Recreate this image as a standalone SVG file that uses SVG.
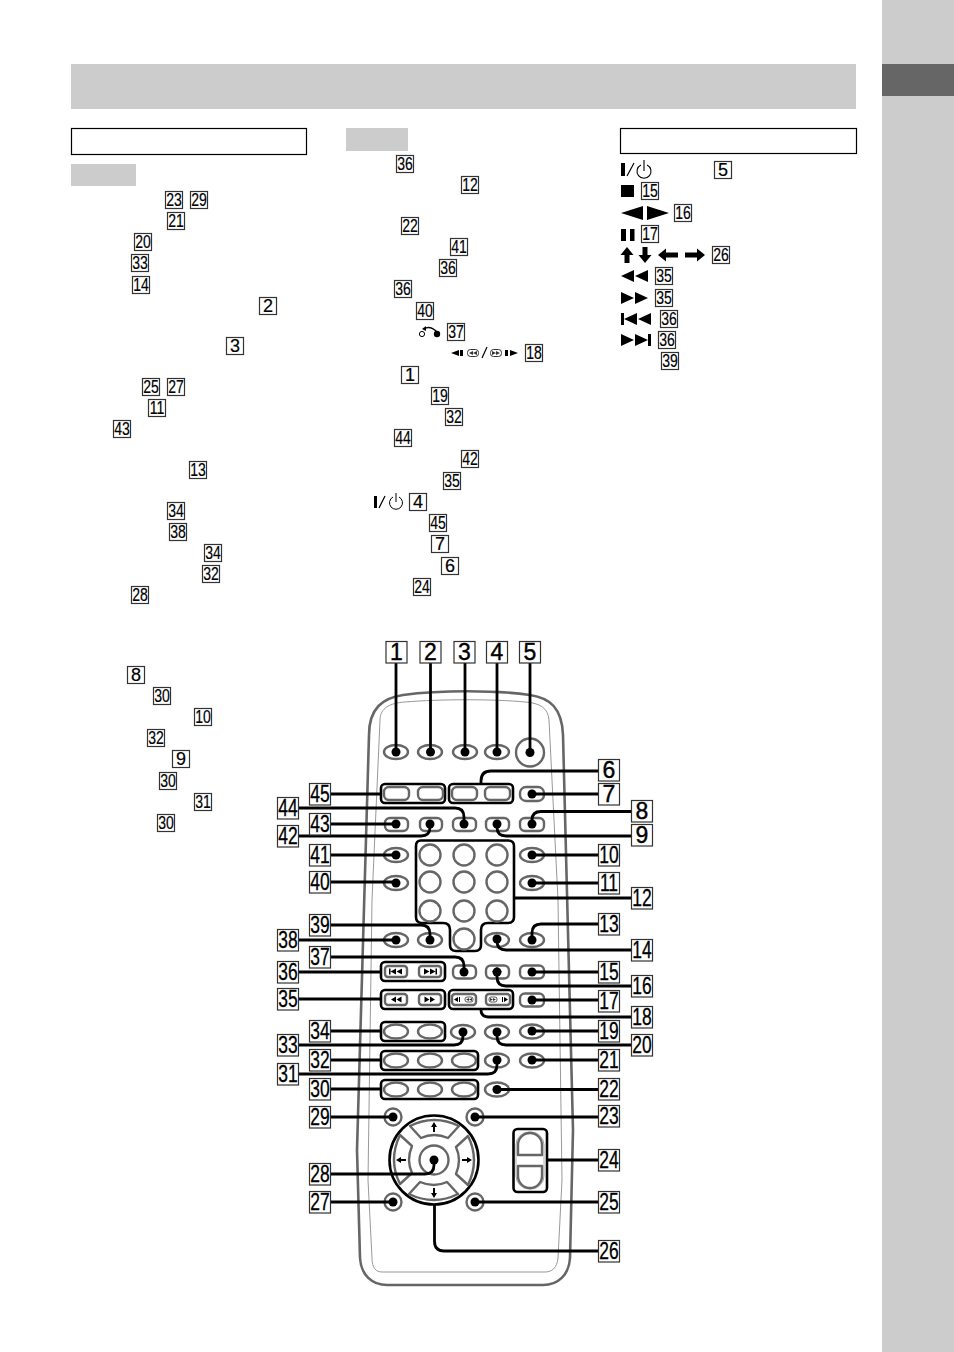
<svg xmlns="http://www.w3.org/2000/svg" xmlns:xlink="http://www.w3.org/1999/xlink" width="954" height="1352" viewBox="0 0 954 1352">
<style>
.bx{fill:#fff;stroke:#333;stroke-width:1.2}
.s{font-family:"Liberation Sans",Arial,sans-serif;font-size:18px;text-anchor:middle;fill:#000;stroke:#000;stroke-width:.2;transform-box:fill-box;transform-origin:center;transform:scaleX(.78)}
.s1{font-family:"Liberation Sans",Arial,sans-serif;font-size:18px;text-anchor:middle;fill:#000;stroke:#000;stroke-width:.2}
.l{font-family:"Liberation Sans",Arial,sans-serif;font-size:23px;text-anchor:middle;fill:#000;stroke:#000;stroke-width:.3;transform-box:fill-box;transform-origin:center;transform:scaleX(.76)}
.l1{font-family:"Liberation Sans",Arial,sans-serif;font-size:23px;text-anchor:middle;fill:#000;stroke:#000;stroke-width:.4}
.b{fill:#fff;stroke:#666;stroke-width:2.4;stroke-linejoin:round}
.g{fill:none;stroke:#000;stroke-width:2.6}
.c{fill:none;stroke:#000;stroke-width:2.8}
.d{fill:#000}
.body{fill:none;stroke:#666;stroke-width:2.6}
.inner{fill:none;stroke:#999;stroke-width:1}
.k{fill:#000}
</style>
<defs>
<path id="seg" d="M-24,-34 Q0,-46 25,-34 L14,-22 Q0,-28 -13,-22 Z" class="b"/>
<path id="arr" d="M0,-38 L-3,-33 H-1 V-28 H1 V-33 H3 Z" class="k"/>
</defs>
<rect width="954" height="1352" fill="#fff"/>
<g id="page">
<rect x="882" y="0" width="72" height="1352" fill="#ccc"/>
<rect x="882" y="64" width="72" height="32" fill="#666"/>
<rect x="71" y="64" width="785" height="45" fill="#ccc"/>
<rect x="71.5" y="128.5" width="235" height="26" fill="#fff" stroke="#000" stroke-width="1.2"/>
<rect x="620.5" y="128.5" width="236" height="25" fill="#fff" stroke="#000" stroke-width="1.2"/>
<rect x="71" y="164" width="65" height="22" fill="#ccc"/>
<rect x="346" y="128" width="62" height="23" fill="#ccc"/>
</g>
<g id="left-list">
<g id="a23"><rect class="bx" x="165.5" y="191.5" width="17" height="17"/><text class="s" x="174" y="206">23</text></g>
<g id="a29"><rect class="bx" x="190.5" y="191.5" width="17" height="17"/><text class="s" x="199" y="206">29</text></g>
<g id="a21"><rect class="bx" x="167.5" y="212.5" width="17" height="17"/><text class="s" x="176" y="227">21</text></g>
<g id="a20"><rect class="bx" x="134.5" y="233.5" width="17" height="17"/><text class="s" x="143" y="248">20</text></g>
<g id="a33"><rect class="bx" x="131.5" y="254.5" width="17" height="17"/><text class="s" x="140" y="269">33</text></g>
<g id="a14"><rect class="bx" x="132.5" y="276.5" width="17" height="17"/><text class="s" x="141" y="291">14</text></g>
<g id="a2"><rect class="bx" x="259.5" y="297.5" width="17" height="17"/><text class="s1" x="268" y="312">2</text></g>
<g id="a3"><rect class="bx" x="226.5" y="337.5" width="17" height="17"/><text class="s1" x="235" y="352">3</text></g>
<g id="a25"><rect class="bx" x="142.5" y="378.5" width="17" height="17"/><text class="s" x="151" y="393">25</text></g>
<g id="a27"><rect class="bx" x="167.5" y="378.5" width="17" height="17"/><text class="s" x="176" y="393">27</text></g>
<g id="a11"><rect class="bx" x="148.5" y="399.5" width="17" height="17"/><text class="s" x="157" y="414">11</text></g>
<g id="a43"><rect class="bx" x="113.5" y="420.5" width="17" height="17"/><text class="s" x="122" y="435">43</text></g>
<g id="a13"><rect class="bx" x="189.5" y="461.5" width="17" height="17"/><text class="s" x="198" y="476">13</text></g>
<g id="a34"><rect class="bx" x="167.5" y="502.5" width="17" height="17"/><text class="s" x="176" y="517">34</text></g>
<g id="a38"><rect class="bx" x="169.5" y="523.5" width="17" height="17"/><text class="s" x="178" y="538">38</text></g>
<g id="a34b"><rect class="bx" x="204.5" y="544.5" width="17" height="17"/><text class="s" x="213" y="559">34</text></g>
<g id="a32"><rect class="bx" x="202.5" y="565.5" width="17" height="17"/><text class="s" x="211" y="580">32</text></g>
<g id="a28"><rect class="bx" x="131.5" y="586.5" width="17" height="17"/><text class="s" x="140" y="601">28</text></g>
<g id="a8"><rect class="bx" x="127.5" y="666.5" width="17" height="17"/><text class="s1" x="136" y="681">8</text></g>
<g id="a30"><rect class="bx" x="153.5" y="687.5" width="17" height="17"/><text class="s" x="162" y="702">30</text></g>
<g id="a10"><rect class="bx" x="194.5" y="708.5" width="17" height="17"/><text class="s" x="203" y="723">10</text></g>
<g id="a32b"><rect class="bx" x="147.5" y="729.5" width="17" height="17"/><text class="s" x="156" y="744">32</text></g>
<g id="a9"><rect class="bx" x="172.5" y="750.5" width="17" height="17"/><text class="s1" x="181" y="765">9</text></g>
<g id="a30b"><rect class="bx" x="159.5" y="772.5" width="17" height="17"/><text class="s" x="168" y="787">30</text></g>
<g id="a31"><rect class="bx" x="194.5" y="793.5" width="17" height="17"/><text class="s" x="203" y="808">31</text></g>
<g id="a30c"><rect class="bx" x="157.5" y="814.5" width="17" height="17"/><text class="s" x="166" y="829">30</text></g>
</g>
<g id="middle-list">
<g id="m36"><rect class="bx" x="396.5" y="155.5" width="17" height="17"/><text class="s" x="405" y="170">36</text></g>
<g id="m12"><rect class="bx" x="461.5" y="176.5" width="17" height="17"/><text class="s" x="470" y="191">12</text></g>
<g id="m22"><rect class="bx" x="401.5" y="217.5" width="17" height="17"/><text class="s" x="410" y="232">22</text></g>
<g id="m41"><rect class="bx" x="450.5" y="238.5" width="17" height="17"/><text class="s" x="459" y="253">41</text></g>
<g id="m36b"><rect class="bx" x="439.5" y="259.5" width="17" height="17"/><text class="s" x="448" y="274">36</text></g>
<g id="m36c"><rect class="bx" x="394.5" y="280.5" width="17" height="17"/><text class="s" x="403" y="295">36</text></g>
<g id="m40"><rect class="bx" x="416.5" y="302.5" width="17" height="17"/><text class="s" x="425" y="317">40</text></g>
<g id="m37"><rect class="bx" x="447.5" y="323.5" width="17" height="17"/><text class="s" x="456" y="338">37</text></g>
<g id="m18"><rect class="bx" x="525.5" y="344.5" width="17" height="17"/><text class="s" x="534" y="359">18</text></g>
<g id="m1"><rect class="bx" x="401.5" y="366.5" width="17" height="17"/><text class="s1" x="410" y="381">1</text></g>
<g id="m19"><rect class="bx" x="431.5" y="387.5" width="17" height="17"/><text class="s" x="440" y="402">19</text></g>
<g id="m32"><rect class="bx" x="445.5" y="408.5" width="17" height="17"/><text class="s" x="454" y="423">32</text></g>
<g id="m44"><rect class="bx" x="394.5" y="429.5" width="17" height="17"/><text class="s" x="403" y="444">44</text></g>
<g id="m42"><rect class="bx" x="461.5" y="450.5" width="17" height="17"/><text class="s" x="470" y="465">42</text></g>
<g id="m35"><rect class="bx" x="443.5" y="472.5" width="17" height="17"/><text class="s" x="452" y="487">35</text></g>
<g id="m4"><rect class="bx" x="409.5" y="493.5" width="17" height="17"/><text class="s1" x="418" y="508">4</text></g>
<g id="m45"><rect class="bx" x="429.5" y="514.5" width="17" height="17"/><text class="s" x="438" y="529">45</text></g>
<g id="m7"><rect class="bx" x="431.5" y="535.5" width="17" height="17"/><text class="s1" x="440" y="550">7</text></g>
<g id="m6"><rect class="bx" x="441.5" y="557.5" width="17" height="17"/><text class="s1" x="450" y="572">6</text></g>
<g id="m24"><rect class="bx" x="413.5" y="578.5" width="17" height="17"/><text class="s" x="422" y="593">24</text></g>
<g id="m-icons">
<circle cx="422" cy="334" r="2.6" fill="#fff" stroke="#000" stroke-width="1"/><circle cx="437" cy="334" r="3.2" class="k"/>
<path d="M424,329 Q430,325 437,332" fill="none" stroke="#000" stroke-width="1.6"/><path d="M422,329 L426,326 L426,331 Z" class="k"/>
<path d="M451,353 L459,350 V356 Z M460,350 H463 V356 H460 Z" class="k"/>
<rect x="467.5" y="349.5" width="11" height="7" rx="3" fill="#fff" stroke="#333"/><path d="M469,353 L473,351 V355 Z M473,353 L477,351 V355 Z" fill="#333"/>
<path d="M482,358 L487,347" stroke="#000" stroke-width="1.2" fill="none"/>
<rect x="490.5" y="349.5" width="11" height="7" rx="3" fill="#fff" stroke="#333"/><path d="M500,353 L496,351 V355 Z M496,353 L492,351 V355 Z" fill="#333"/>
<path d="M518,353 L510,350 V356 Z M505,350 H508 V356 H505 Z" class="k"/>
<rect x="374" y="496" width="3" height="12" class="k"/><path d="M379,508 L385,496" stroke="#000" stroke-width="1.2" fill="none"/>
<path d="M393,497 A6.5,6.5 0 1 0 399,497 M396,493 V502" fill="none" stroke="#000" stroke-width="1"/>
</g>
</g>
<g id="right-list">
<g id="r5"><rect class="bx" x="714.5" y="161.5" width="17" height="17"/><text class="s1" x="723" y="176">5</text></g>
<g id="r15"><rect class="bx" x="641.5" y="182.5" width="17" height="17"/><text class="s" x="650" y="197">15</text></g>
<g id="r16"><rect class="bx" x="674.5" y="204.5" width="17" height="17"/><text class="s" x="683" y="219">16</text></g>
<g id="r17"><rect class="bx" x="641.5" y="225.5" width="17" height="17"/><text class="s" x="650" y="240">17</text></g>
<g id="r26"><rect class="bx" x="712.5" y="246.5" width="17" height="17"/><text class="s" x="721" y="261">26</text></g>
<g id="r35"><rect class="bx" x="655.5" y="267.5" width="17" height="17"/><text class="s" x="664" y="282">35</text></g>
<g id="r35b"><rect class="bx" x="655.5" y="289.5" width="17" height="17"/><text class="s" x="664" y="304">35</text></g>
<g id="r36"><rect class="bx" x="660.5" y="310.5" width="17" height="17"/><text class="s" x="669" y="325">36</text></g>
<g id="r36b"><rect class="bx" x="658.5" y="331.5" width="17" height="17"/><text class="s" x="667" y="346">36</text></g>
<g id="r39"><rect class="bx" x="661.5" y="352.5" width="17" height="17"/><text class="s" x="670" y="367">39</text></g>
<g id="r-icons" class="k">
<rect x="621" y="163" width="4" height="13"/><path d="M627,176 L634,163" stroke="#000" stroke-width="1.2" fill="none"/>
<path d="M641,165 A7,7 0 1 0 647,165 M644,160 V171" fill="none" stroke="#000" stroke-width="1.1"/>
<rect x="621" y="185" width="13" height="12"/>
<path d="M621,213 L643,206 V220 Z M647,206 L669,213 L647,220 Z"/>
<path d="M621,229 H626 V241 H621 Z M630,229 H634.5 V241 H630 Z"/>
<path d="M627,247 L620.5,255 H624.5 V263 H629.5 V255 H633.5 Z"/>
<path d="M645,263 L638.5,255 H642.5 V247 H647.5 V255 H651.5 Z"/>
<path d="M658,255 L666,248.5 V252.5 H678 V257.5 H666 V261.5 Z"/>
<path d="M705,255 L697,248.5 V252.5 H685 V257.5 H697 V261.5 Z"/>
<path d="M621,276 L634,270 V282 Z M635,276 L648,270 V282 Z"/>
<path d="M648,298 L635,292 V304 Z M634,298 L621,292 V304 Z"/>
<path d="M621,313 H624 V325 H621 Z M624,319 L637,313 V325 Z M638,319 L651,313 V325 Z"/>
<path d="M648,334 H651 V346 H648 Z M648,340 L635,334 V346 Z M634,340 L621,334 V346 Z"/>
</g>
</g>
<g id="remote-body">
<path class="body" d="M369,735 C369,708 383,698 403,695 C440,690 495,690 530,695 C550,698 562,708 563,735 L573,1130 L570,1258 C569,1275 558,1285 543,1285 L387,1285 C372,1285 361,1275 360,1258 L357,1150 Z"/>
<path class="inner" d="M380,720 C380,708 390,703 405,702 C440,699 495,699 525,702 C540,703 548,708 549,720 L558,900 L562,1180 L558,1258 C557,1268 552,1272 545,1272 L382,1272 C376,1272 372,1268 372,1258 L368,1180 L372,900 Z"/>
</g>
<g id="buttons">
<g id="top-row"><ellipse class="b" cx="396" cy="752" rx="12" ry="7"/><ellipse class="b" cx="430" cy="752" rx="12" ry="7"/><ellipse class="b" cx="465" cy="752" rx="12" ry="7"/><ellipse class="b" cx="497" cy="752" rx="12" ry="7"/><circle class="b" cx="530" cy="752.5" r="14"/></g>
<g id="group-45"><rect class="g" x="381" y="784" width="64" height="19" rx="4"/><rect class="b" x="384" y="787" width="25" height="13" rx="5"/><rect class="b" x="418" y="787" width="25" height="13" rx="5"/></g>
<g id="group-6"><rect class="g" x="449" y="784" width="64" height="19" rx="4"/><rect class="b" x="452" y="787" width="25" height="13" rx="5"/><rect class="b" x="485" y="787" width="25" height="13" rx="5"/></g>
<rect id="btn-7" class="b" x="520" y="787" width="24" height="14" rx="6"/>
<g id="row-824"><rect class="b" x="385" y="818" width="23" height="13" rx="5"/><rect class="b" x="420" y="818" width="22" height="13" rx="5"/><rect class="b" x="453" y="818" width="23" height="13" rx="5"/><rect class="b" x="486" y="818" width="23" height="13" rx="5"/><rect class="b" x="520" y="818" width="24" height="13" rx="5"/></g>
<g id="side-855"><ellipse class="b" cx="396" cy="855" rx="12" ry="7"/><ellipse class="b" cx="532" cy="855" rx="12" ry="7"/><ellipse class="b" cx="396" cy="883" rx="12" ry="7"/><ellipse class="b" cx="532" cy="883" rx="12" ry="7"/></g>
<g id="keypad">
<path class="g" d="M421,840.5 H508 Q514,840.5 514,846 V917 Q514,923 508,923 H488 Q481,923 481,930 V945 Q481,951 475,951 H456 Q450,951 450,945 V930 Q450,923 443,923 H422 Q416,923 416,917 V846 Q416,840.5 421,840.5 Z"/>
<circle class="b" cx="430" cy="855" r="10.5"/><circle class="b" cx="464" cy="855" r="10.5"/><circle class="b" cx="497" cy="855" r="10.5"/>
<circle class="b" cx="430" cy="882" r="10.5"/><circle class="b" cx="464" cy="882" r="10.5"/><circle class="b" cx="497" cy="882" r="10.5"/>
<circle class="b" cx="430" cy="911" r="10.5"/><circle class="b" cx="464" cy="911" r="10.5"/><circle class="b" cx="497" cy="911" r="10.5"/>
<circle class="b" cx="464" cy="939" r="10.5"/>
</g>
<g id="row-940"><ellipse class="b" cx="396" cy="940" rx="12" ry="7"/><ellipse class="b" cx="430" cy="940" rx="12" ry="7"/><ellipse class="b" cx="497" cy="940" rx="12" ry="7"/><ellipse class="b" cx="532" cy="940" rx="12" ry="7"/></g>
<g id="group-36"><rect class="g" x="381" y="962" width="64" height="19" rx="4"/><rect class="b" x="385" y="966" width="22" height="11" rx="3"/><rect class="b" x="419" y="966" width="22" height="11" rx="3"/>
<path class="k" d="M389,968.5 H390.5 V974.5 H389 Z M390.5,971.5 L396,968.5 V974.5 Z M396.5,971.5 L402,968.5 V974.5 Z M437,968.5 H435.5 V974.5 H437 Z M435.5,971.5 L430,968.5 V974.5 Z M429.5,971.5 L424,968.5 V974.5 Z"/></g>
<g id="row-972"><rect class="b" x="453" y="965.5" width="23" height="13" rx="5"/><rect class="b" x="486" y="965.5" width="23" height="13" rx="5"/><rect class="b" x="520" y="965.5" width="24" height="13" rx="5"/><path class="k" d="M497,967 L492,972 H502 Z"/></g>
<g id="group-35"><rect class="g" x="381" y="990" width="64" height="19" rx="4"/><rect class="b" x="385" y="994" width="22" height="11" rx="3"/><rect class="b" x="419" y="994" width="22" height="11" rx="3"/>
<path class="k" d="M391,999.5 L396,996.5 V1002.5 Z M396.5,999.5 L401.5,996.5 V1002.5 Z M435,999.5 L430,996.5 V1002.5 Z M429.5,999.5 L424.5,996.5 V1002.5 Z"/></g>
<g id="group-18"><rect class="g" x="449" y="990" width="64" height="19" rx="4"/><rect class="b" x="452" y="994" width="24" height="11" rx="3"/><rect class="b" x="486" y="994" width="24" height="11" rx="3"/>
<path class="k" d="M454,999.5 L458,997 V1002 Z M459,997 H460 V1002 H459 Z M508,999.5 L504,997 V1002 Z M503,997 H502 V1002 H503 Z"/><rect x="465" y="997" width="8" height="5" rx="2" fill="none" stroke="#333" stroke-width=".8"/><rect x="489" y="997" width="8" height="5" rx="2" fill="none" stroke="#333" stroke-width=".8"/><path d="M466,999.5 L469,998 V1001 Z M469,999.5 L472,998 V1001 Z M496,999.5 L493,998 V1001 Z M493,999.5 L490,998 V1001 Z" fill="#333"/></g>
<rect id="btn-17" class="b" x="520" y="993.5" width="24" height="13" rx="5"/>
<g id="group-34"><rect class="g" x="381" y="1022" width="64" height="19" rx="4"/><ellipse class="b" cx="396" cy="1031.5" rx="12" ry="7"/><ellipse class="b" cx="430" cy="1031.5" rx="12" ry="7"/></g>
<g id="row-1031"><ellipse class="b" cx="463" cy="1032" rx="12" ry="7"/><ellipse class="b" cx="497" cy="1032" rx="12" ry="7"/><ellipse class="b" cx="532" cy="1031.5" rx="12" ry="7"/></g>
<g id="group-32"><rect class="g" x="381" y="1051" width="97" height="19" rx="4"/><ellipse class="b" cx="396" cy="1060.5" rx="12" ry="7"/><ellipse class="b" cx="430" cy="1060.5" rx="12" ry="7"/><ellipse class="b" cx="464" cy="1060.5" rx="12" ry="7"/></g>
<g id="row-1060"><ellipse class="b" cx="497" cy="1060.5" rx="12" ry="7"/><ellipse class="b" cx="532" cy="1060.5" rx="12" ry="7"/></g>
<g id="group-30"><rect class="g" x="381" y="1080" width="97" height="19" rx="4"/><ellipse class="b" cx="396" cy="1089.5" rx="12" ry="7"/><ellipse class="b" cx="430" cy="1089.5" rx="12" ry="7"/><ellipse class="b" cx="464" cy="1089.5" rx="12" ry="7"/></g>
<ellipse id="btn-22" class="b" cx="497" cy="1089.5" rx="12" ry="7"/>
<g id="corners"><circle class="b" cx="393" cy="1117" r="8.5"/><circle class="b" cx="475" cy="1117" r="8.5"/><circle class="b" cx="393" cy="1202" r="8.5"/><circle class="b" cx="475" cy="1202" r="8.5"/></g>
<g id="dpad" transform="translate(434 1160)">
<circle r="44.5" fill="#fff" stroke="#000" stroke-width="2.6"/>
<use xlink:href="#seg" href="#seg"/><use xlink:href="#seg" href="#seg" transform="rotate(90)"/><use xlink:href="#seg" href="#seg" transform="rotate(180)"/><use xlink:href="#seg" href="#seg" transform="rotate(270)"/>
<use xlink:href="#arr" href="#arr"/><use xlink:href="#arr" href="#arr" transform="rotate(90)"/><use xlink:href="#arr" href="#arr" transform="rotate(180)"/><use xlink:href="#arr" href="#arr" transform="rotate(270)"/>
<circle class="b" r="14.5"/>
</g>
<g id="rocker"><rect class="g" x="513.5" y="1129" width="33.5" height="63" rx="4"/>
<rect x="516" y="1132" width="28" height="57" rx="13" fill="none" stroke="#aaa" stroke-width="1"/>
<path class="b" d="M518,1155 V1145 A12,12 0 0 1 542,1145 V1155 Z"/><path class="b" d="M518,1166 V1176 A12,12 0 0 0 542,1176 V1166 Z"/></g>
</g>
<g id="connectors">
<path class="c" d="M396,663 V752 M430.5,663 V752 M465,663 V752 M497,663 V752 M530,663 V752"/>
<path class="c" d="M598,771 H491 Q481,771 481,781 V784"/>
<path class="c" d="M532,794 H598"/>
<path class="c" d="M532,824 V820 Q532,811.5 541,811.5 H631"/>
<path class="c" d="M497,824 V827 Q497,836 506,836 H631"/>
<path class="c" d="M532,855 H598 M532,883 H598 M514,898 H631"/>
<path class="c" d="M532,939 V933 Q532,924 541,924 H598"/>
<path class="c" d="M497,939 V941 Q497,950 506,950 H631"/>
<path class="c" d="M532,972 H598"/>
<path class="c" d="M497,972 V977 Q497,986 506,986 H631"/>
<path class="c" d="M532,1000 H598"/>
<path class="c" d="M481,1009 V1010 Q481,1017 489,1017 H631"/>
<path class="c" d="M532,1031 H598"/>
<path class="c" d="M497,1031 V1036 Q497,1045 506,1045 H631"/>
<path class="c" d="M532,1060 H598 M497,1089.5 H598 M475,1117 H598 M547,1160 H598 M475,1202 H598"/>
<path class="c" d="M434.5,1205 V1241 Q434.5,1251 444,1251 H598"/>
<path class="c" d="M331,794 H381"/>
<path class="c" d="M298,808 H455 Q464,808 464,817 V824"/>
<path class="c" d="M331,824 H396"/>
<path class="c" d="M298,836 H421 Q430,836 430,827 V824"/>
<path class="c" d="M331,855 H396 M331,882 H396"/>
<path class="c" d="M331,925 H421 Q430,925 430,934 V940"/>
<path class="c" d="M298,940 H396"/>
<path class="c" d="M331,957 H455 Q464,957 464,966 V972"/>
<path class="c" d="M298,972 H381 M298,999 H381 M331,1031 H381"/>
<path class="c" d="M298,1045 H454 Q463,1045 463,1036 V1032"/>
<path class="c" d="M331,1060 H381"/>
<path class="c" d="M298,1074 H488 Q497,1074 497,1065 V1060"/>
<path class="c" d="M331,1089 H381 M331,1117 H393 M331,1202 H393"/>
<path class="c" d="M331,1174 H425 Q434,1174 434,1165 V1160"/>
<g class="d">
<circle cx="396" cy="752" r="4.5"/><circle cx="430.5" cy="752" r="4.5"/><circle cx="465" cy="752" r="4.5"/><circle cx="497" cy="752" r="4.5"/><circle cx="530" cy="752.5" r="4.5"/>
<circle cx="532" cy="794" r="4.5"/><circle cx="396" cy="824" r="4.5"/><circle cx="430" cy="824" r="4.5"/><circle cx="464" cy="824" r="4.5"/><circle cx="497" cy="824" r="4.5"/><circle cx="532" cy="824" r="4.5"/>
<circle cx="396" cy="855" r="4.5"/><circle cx="532" cy="855" r="4.5"/><circle cx="396" cy="883" r="4.5"/><circle cx="532" cy="883" r="4.5"/>
<circle cx="396" cy="940" r="4.5"/><circle cx="430" cy="940" r="4.5"/><circle cx="497" cy="939" r="4.5"/><circle cx="532" cy="940" r="4.5"/>
<circle cx="464" cy="972" r="4.5"/><circle cx="497" cy="972" r="4.5"/><circle cx="532" cy="972" r="4.5"/><circle cx="532" cy="1000" r="4.5"/>
<circle cx="463" cy="1032" r="4.5"/><circle cx="497" cy="1032" r="4.5"/><circle cx="532" cy="1031" r="4.5"/><circle cx="497" cy="1060" r="4.5"/><circle cx="532" cy="1060" r="4.5"/><circle cx="497" cy="1089.5" r="4.5"/>
<circle cx="393" cy="1117" r="4.5"/><circle cx="475" cy="1117" r="4.5"/><circle cx="393" cy="1202" r="4.5"/><circle cx="475" cy="1202" r="4.5"/><circle cx="434" cy="1160" r="4.5"/>
</g>
</g>
<g id="callouts">
<g id="c1"><rect class="bx" x="386" y="641.5" width="21" height="21.5"/><text class="l1" x="396.5" y="660">1</text></g>
<g id="c2"><rect class="bx" x="420" y="641.5" width="21" height="21.5"/><text class="l1" x="430.5" y="660">2</text></g>
<g id="c3"><rect class="bx" x="454" y="641.5" width="21" height="21.5"/><text class="l1" x="464.5" y="660">3</text></g>
<g id="c4"><rect class="bx" x="486.5" y="641.5" width="21" height="21.5"/><text class="l1" x="497" y="660">4</text></g>
<g id="c5"><rect class="bx" x="519.5" y="641.5" width="21" height="21.5"/><text class="l1" x="530" y="660">5</text></g>
<g id="c6"><rect class="bx" x="598.5" y="759.5" width="21" height="21.5"/><text class="l1" x="609" y="778">6</text></g>
<g id="c7"><rect class="bx" x="598.5" y="783.5" width="21" height="21.5"/><text class="l1" x="609" y="802">7</text></g>
<g id="c8"><rect class="bx" x="631.5" y="800.5" width="21" height="21.5"/><text class="l1" x="642" y="819">8</text></g>
<g id="c9"><rect class="bx" x="631.5" y="824.5" width="21" height="21.5"/><text class="l1" x="642" y="843">9</text></g>
<g id="c10"><rect class="bx" x="598.5" y="844.5" width="21" height="21.5"/><text class="l" x="609" y="863">10</text></g>
<g id="c11"><rect class="bx" x="598.5" y="872.5" width="21" height="21.5"/><text class="l" x="609" y="891">11</text></g>
<g id="c12"><rect class="bx" x="631.5" y="887.5" width="21" height="21.5"/><text class="l" x="642" y="906">12</text></g>
<g id="c13"><rect class="bx" x="598.5" y="913.5" width="21" height="21.5"/><text class="l" x="609" y="932">13</text></g>
<g id="c14"><rect class="bx" x="631.5" y="939.5" width="21" height="21.5"/><text class="l" x="642" y="958">14</text></g>
<g id="c15"><rect class="bx" x="598.5" y="961.5" width="21" height="21.5"/><text class="l" x="609" y="980">15</text></g>
<g id="c16"><rect class="bx" x="631.5" y="975.5" width="21" height="21.5"/><text class="l" x="642" y="994">16</text></g>
<g id="c17"><rect class="bx" x="598.5" y="990.5" width="21" height="21.5"/><text class="l" x="609" y="1009">17</text></g>
<g id="c18"><rect class="bx" x="631.5" y="1006.5" width="21" height="21.5"/><text class="l" x="642" y="1025">18</text></g>
<g id="c19"><rect class="bx" x="598.5" y="1020.5" width="21" height="21.5"/><text class="l" x="609" y="1039">19</text></g>
<g id="c20"><rect class="bx" x="631.5" y="1034.5" width="21" height="21.5"/><text class="l" x="642" y="1053">20</text></g>
<g id="c21"><rect class="bx" x="598.5" y="1049.5" width="21" height="21.5"/><text class="l" x="609" y="1068">21</text></g>
<g id="c22"><rect class="bx" x="598.5" y="1078.5" width="21" height="21.5"/><text class="l" x="609" y="1097">22</text></g>
<g id="c23"><rect class="bx" x="598.5" y="1105.5" width="21" height="21.5"/><text class="l" x="609" y="1124">23</text></g>
<g id="c24"><rect class="bx" x="598.5" y="1149.5" width="21" height="21.5"/><text class="l" x="609" y="1168">24</text></g>
<g id="c25"><rect class="bx" x="598.5" y="1191.5" width="21" height="21.5"/><text class="l" x="609" y="1210">25</text></g>
<g id="c26"><rect class="bx" x="598.5" y="1240.5" width="21" height="21.5"/><text class="l" x="609" y="1259">26</text></g>
<g id="c45"><rect class="bx" x="309.5" y="783.5" width="21" height="21.5"/><text class="l" x="320" y="802">45</text></g>
<g id="c44"><rect class="bx" x="277.5" y="797.5" width="21" height="21.5"/><text class="l" x="288" y="816">44</text></g>
<g id="c43"><rect class="bx" x="309.5" y="813.5" width="21" height="21.5"/><text class="l" x="320" y="832">43</text></g>
<g id="c42"><rect class="bx" x="277.5" y="825.5" width="21" height="21.5"/><text class="l" x="288" y="844">42</text></g>
<g id="c41"><rect class="bx" x="309.5" y="844.5" width="21" height="21.5"/><text class="l" x="320" y="863">41</text></g>
<g id="c40"><rect class="bx" x="309.5" y="871.5" width="21" height="21.5"/><text class="l" x="320" y="890">40</text></g>
<g id="c39"><rect class="bx" x="309.5" y="914.5" width="21" height="21.5"/><text class="l" x="320" y="933">39</text></g>
<g id="c38"><rect class="bx" x="277.5" y="929.5" width="21" height="21.5"/><text class="l" x="288" y="948">38</text></g>
<g id="c37"><rect class="bx" x="309.5" y="946.5" width="21" height="21.5"/><text class="l" x="320" y="965">37</text></g>
<g id="c36"><rect class="bx" x="277.5" y="961.5" width="21" height="21.5"/><text class="l" x="288" y="980">36</text></g>
<g id="c35"><rect class="bx" x="277.5" y="988.5" width="21" height="21.5"/><text class="l" x="288" y="1007">35</text></g>
<g id="c34"><rect class="bx" x="309.5" y="1020.5" width="21" height="21.5"/><text class="l" x="320" y="1039">34</text></g>
<g id="c33"><rect class="bx" x="277.5" y="1034.5" width="21" height="21.5"/><text class="l" x="288" y="1053">33</text></g>
<g id="c32"><rect class="bx" x="309.5" y="1049.5" width="21" height="21.5"/><text class="l" x="320" y="1068">32</text></g>
<g id="c31"><rect class="bx" x="277.5" y="1063.5" width="21" height="21.5"/><text class="l" x="288" y="1082">31</text></g>
<g id="c30"><rect class="bx" x="309.5" y="1078.5" width="21" height="21.5"/><text class="l" x="320" y="1097">30</text></g>
<g id="c29"><rect class="bx" x="309.5" y="1106.5" width="21" height="21.5"/><text class="l" x="320" y="1125">29</text></g>
<g id="c28"><rect class="bx" x="309.5" y="1163.5" width="21" height="21.5"/><text class="l" x="320" y="1182">28</text></g>
<g id="c27"><rect class="bx" x="309.5" y="1191.5" width="21" height="21.5"/><text class="l" x="320" y="1210">27</text></g>
</g>
</svg>
